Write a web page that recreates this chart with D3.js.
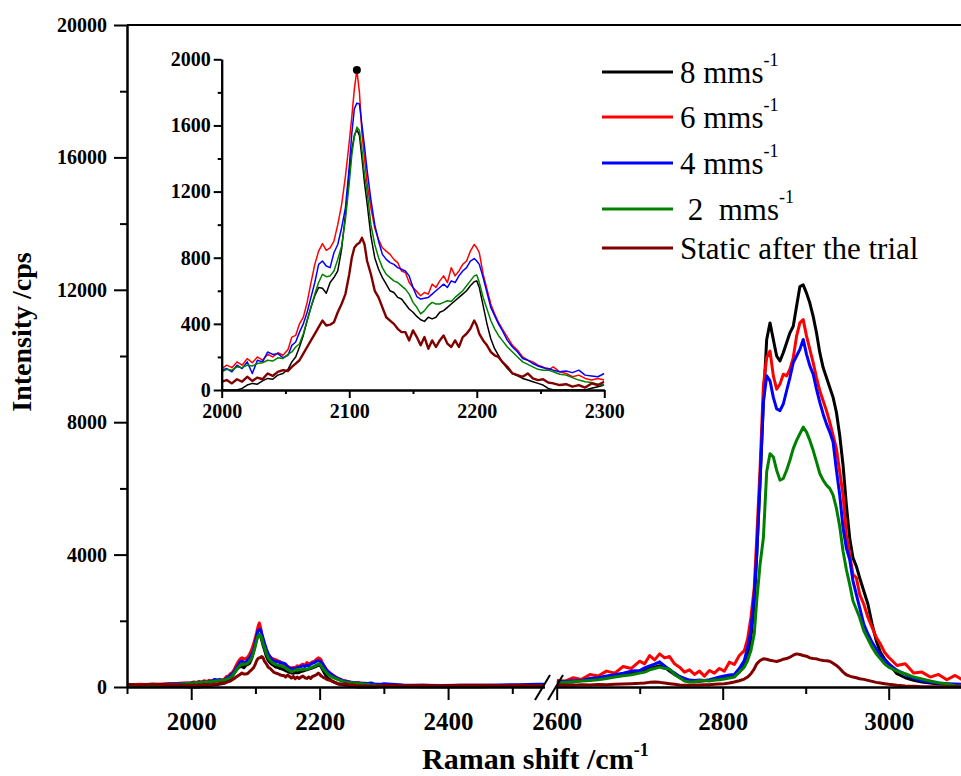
<!DOCTYPE html>
<html>
<head>
<meta charset="utf-8">
<script src="https://cdn.jsdelivr.net/npm/d3@7"></script>
<style>
  body { margin: 0; background: #fff; }
  text { font-family: "Times New Roman", "Liberation Serif", serif; }
</style>
</head>
<body>
<div id="chart"></div>
<script>

// Raman shift (cm-1), left part of the broken axis (also used by the inset)
const shiftLeft = [1900, 1920, 1940, 1960, 1980,
  2000, 2004, 2008, 2012, 2016, 2020, 2024, 2028, 2032, 2036, 2040, 2044, 2048, 2052,
  2055, 2058, 2061, 2064, 2067, 2070, 2073, 2076, 2079, 2082, 2085, 2088, 2091, 2094, 2097,
  2100, 2102, 2104, 2106, 2108, 2110, 2112, 2114,
  2117, 2120, 2123, 2126, 2129, 2132, 2135, 2138, 2141, 2144, 2147, 2150, 2153, 2156, 2159,
  2162, 2165, 2168, 2171, 2174, 2177, 2180, 2183, 2186, 2189, 2192, 2195, 2198,
  2200, 2202, 2205, 2208, 2211, 2214, 2217, 2220,
  2224, 2228, 2232, 2236, 2240, 2244, 2248, 2252, 2256, 2260,
  2265, 2270, 2275, 2280, 2285, 2290, 2295, 2300,
  2330, 2360, 2390, 2420, 2450, 2480, 2510, 2540, 2550];

const speed8Left = [20, 20, 30, 30, 20,
  0, 0, 0, 0, 10, 30, 40, 35, 55, 70, 65, 90, 100, 125,
  170, 200, 260, 330, 420, 500, 570, 620, 615, 585, 650, 680, 720, 850, 1060,
  1300, 1450, 1540, 1575, 1540, 1400, 1250, 1130,
  930, 800, 730, 680, 640, 600, 590, 560, 550, 520, 490, 470, 445, 425, 415,
  440, 430, 440, 470, 480, 500, 520, 540, 560, 580, 600, 630, 655,
  660, 620, 510, 400, 310, 250, 210, 170,
  130, 100, 85, 70, 60, 50, 40, 30, 10, 0,
  0, 0, 0, 0, 0, 10, 20, 30,
  20, 10, 10, 10, 10, 20, 20, 30, 30];

const speed6Left = [60, 80, 70, 100, 110,
  130, 150, 135, 170, 150, 190, 165, 200, 180, 215, 200, 225, 210, 245,
  320, 330, 400, 440, 530, 650, 760, 840, 885, 845, 860, 900, 1000, 1120, 1290,
  1500, 1650, 1820, 1935, 1800, 1550, 1400, 1250,
  1100, 980, 910, 860, 840, 820, 790, 770, 720, 710, 650, 620, 595, 570, 590,
  580, 640, 620, 660, 690, 650, 740, 690, 720, 760, 780, 840, 880,
  860, 830, 700, 610, 520, 460, 410, 370,
  320, 270, 240, 200, 180, 170, 150, 140, 120, 140,
  110, 100, 80, 90, 70, 60, 70, 60,
  40, 30, 25, 30, 20, 30, 40, 50, 50];

const speed4Left = [40, 50, 70, 80, 100,
  120, 130, 110, 150, 130, 170, 100, 180, 170, 230, 215, 220, 195, 210,
  270, 290, 350, 400, 470, 560, 650, 760, 780, 750, 740, 830, 880, 980, 1100,
  1350, 1550, 1700, 1735, 1730, 1600, 1470, 1330,
  1150, 1000, 900, 820, 790, 770, 760, 740, 730, 720, 690, 620, 565, 550, 555,
  560, 580, 600, 620, 640, 620, 660, 650, 690, 720, 740, 780, 795,
  780, 760, 680, 590, 500, 450, 400, 360,
  300, 260, 230, 190, 180, 160, 145, 135, 130, 120,
  110, 115, 105, 120, 90, 85, 80, 100,
  60, 50, 45, 50, 55, 60, 70, 80, 80];

const speed2Left = [30, 40, 50, 60, 80,
  110, 125, 120, 140, 135, 150, 145, 160, 165, 180, 175, 195, 190, 215,
  230, 260, 280, 340, 420, 500, 580, 650, 700, 685, 690, 720, 790, 870, 1030,
  1250, 1420, 1530, 1590, 1570, 1450, 1300, 1200,
  1000, 880, 800, 740, 700, 680, 660, 650, 630, 610, 580, 530, 500, 460, 480,
  510, 530, 520, 520, 530, 540, 535, 560, 580, 600, 630, 660, 690,
  695, 650, 560, 490, 420, 370, 330, 300,
  260, 230, 200, 170, 155, 140, 125, 120, 120, 110,
  95, 90, 75, 60, 50, 45, 35, 30,
  25, 20, 20, 15, 15, 20, 20, 30, 30];

const staticLeft = [80, 60, 90, 70, 60,
  50, 60, 40, 65, 50, 80, 55, 75, 65, 100, 85, 110, 120, 115,
  140, 160, 180, 220, 260, 300, 340, 380, 420, 390, 395, 410, 470, 520, 580,
  700, 800, 860, 880, 890, 920, 880, 780,
  700, 600, 560, 500, 440, 420, 400, 370, 350, 350, 300, 360, 320, 270, 320,
  250, 300, 260, 300, 330, 280, 260, 300, 260, 320, 340, 370, 420,
  390, 340, 300, 270, 230, 210, 200, 170,
  140, 100, 90, 80, 100, 70, 60, 65, 45, 40,
  30, 35, 20, 30, 15, 40, 30, 50,
  40, 50, 40, 50, 55, 45, 50, 40, 40];

// Raman shift (cm-1), right part of the broken axis
const shiftRight = [2600, 2610, 2620, 2630, 2640, 2650, 2660, 2670, 2680, 2690,
  2700, 2706, 2712, 2718, 2724, 2730, 2736, 2742, 2748, 2754, 2760, 2766, 2772, 2778,
  2784, 2790, 2796, 2802, 2808, 2814, 2820, 2826, 2830, 2834, 2838, 2841, 2845, 2849,
  2853, 2857, 2861, 2865, 2869, 2873, 2877, 2881, 2885, 2889, 2893, 2897, 2901, 2905,
  2909, 2913, 2917, 2921, 2925, 2929, 2933, 2937, 2941, 2945, 2949, 2953, 2957, 2961,
  2965, 2970, 2975, 2980, 2985, 2990, 2995, 3000, 3010, 3020, 3030, 3040, 3050, 3060,
  3070, 3080, 3090, 3100];

const speed8Right = [120, 160, 150, 200, 220, 260, 290, 330, 380, 420,
  470, 520, 560, 600, 640, 600, 480, 380, 300, 230, 190, 180, 170, 190,
  200, 220, 250, 280, 310, 350, 450, 650, 900, 1500, 2500, 4000, 6200, 8600,
  10500, 11000, 10500, 10000, 9850, 10100, 10400, 10700, 10900, 11500, 12100, 12150, 11900, 11600,
  11200, 10700, 10100, 9650, 9350, 9050, 8750, 8300, 7600, 6700, 5500, 4500, 3900, 3650,
  3300, 2900, 2500, 1900, 1400, 1050, 850, 700, 400, 280, 200, 150, 120, 90,
  80, 70, 60, 60];

const speed6Right = [200, 180, 280, 230, 380, 330, 480, 420, 620, 560,
  780, 700, 950, 820, 1000, 880, 920, 700, 600, 450, 520, 380, 480, 330,
  500, 420, 560, 480, 750, 680, 950, 1100, 1450, 2100, 3000, 4500, 6600, 9100,
  9950, 10150, 9400, 9000, 9150, 9450, 9400, 9600, 9950, 10600, 11000, 11100, 10600, 10200,
  9800, 9350, 8950, 8650, 8350, 8000, 7600, 7200, 6500, 5800, 4600, 4000, 3400, 3300,
  2800, 2500, 2100, 1800, 1500, 1300, 1050, 900, 650, 700, 420, 450, 300, 380,
  220, 350, 200, 280];

const speed4Right = [150, 170, 190, 200, 260, 280, 330, 370, 420, 480,
  500, 580, 640, 690, 760, 640, 520, 420, 320, 260, 210, 200, 210, 200,
  220, 260, 300, 330, 360, 380, 560, 800, 1200, 1700, 2800, 4000, 6200, 8600,
  9400, 9250, 8750, 8400, 8350, 8550, 8950, 9350, 9800, 10000, 10200, 10500, 10050, 9700,
  9450, 9000, 8600, 8250, 7950, 7700, 7400, 6550, 5800, 4800, 4200, 3850, 3200, 2800,
  2400, 1900, 1600, 1350, 1150, 950, 800, 700, 500, 380, 260, 190, 150, 110,
  100, 90, 80, 80];

const speed2Right = [120, 140, 160, 180, 200, 220, 260, 300, 340, 370,
  420, 450, 520, 560, 600, 560, 540, 380, 280, 180, 150, 160, 190, 200,
  180, 210, 220, 240, 270, 300, 450, 600, 800, 1100, 1600, 2600, 3700, 4500,
  6500, 7050, 6950, 6550, 6250, 6300, 6550, 6850, 7200, 7450, 7650, 7850, 7700, 7450,
  7150, 6800, 6450, 6250, 6100, 6000, 5800, 5400, 4850, 4100, 3550, 3100, 2600, 2350,
  2100, 1700, 1450, 1200, 1000, 850, 700, 600, 480, 400, 300, 240, 180, 130,
  100, 40, 30, 30];

const staticRight = [50, 60, 55, 70, 60, 75, 70, 80, 90, 100,
  110, 120, 140, 150, 140, 120, 100, 80, 60, 50, 50, 60, 60, 70,
  70, 80, 90, 100, 120, 150, 190, 240, 300, 400, 550, 700, 800, 850,
  840, 810, 790, 770, 800, 840, 860, 900, 960, 1000, 980, 950, 930, 880,
  860, 850, 820, 800, 790, 780, 720, 650, 560, 450, 370, 330, 300, 280,
  250, 230, 200, 170, 140, 120, 100, 80, 50, 30, 20, 10, 10, 10,
  5, 5, 5, 5];

const seriesNames = ["8 mms", "6 mms", "4 mms", " 2  mms", "Static after the trial"];
const seriesSup = ["-1", "-1", "-1", "-1", ""];
const seriesColors = ["#000000", "#ff0000", "#0000ff", "#008000", "#800000"];

const yTicks = [0, 4000, 8000, 12000, 16000, 20000];
const yMinor = [2000, 6000, 10000, 14000, 18000];
const xLeftTicks = [2000, 2200, 2400];
const xLeftMinor = [1900, 2100, 2300, 2500];
const xRightTicks = [2600, 2800, 3000];
const xRightMinor = [2700, 2900, 3100];
const insetYTicks = [0, 400, 800, 1200, 1600, 2000];
const insetYMinor = [200, 600, 1000, 1400, 1800];
const insetXTicks = [2000, 2100, 2200, 2300];
const insetXMinor = [2050, 2150, 2250];
const insetMarker = [[2106, 1935]];

const leftSeries = [speed8Left, speed6Left, speed4Left, speed2Left, staticLeft];
const rightSeries = [speed8Right, speed6Right, speed4Right, speed2Right, staticRight];

const W = 961, H = 776;
const serif = '"Times New Roman", "Liberation Serif", serif';

const svg = d3.select("#chart").append("svg")
  .attr("width", W)
  .attr("height", H)
  .style("display", "block");

// main scales (broken x axis)
const xL = d3.scaleLinear().domain([1900, 2550]).range([127, 544.4]);
const xR = d3.scaleLinear().domain([2600, 3100]).range([556.7, 971.7]);
const y = d3.scaleLinear().domain([0, 20000]).range([687, 25]);

// inset scales
const xi = d3.scaleLinear().domain([2000, 2300]).range([221.7, 604.3]);
const yi = d3.scaleLinear().domain([0, 2000]).range([390, 59.3]);

const defs = svg.append("defs");
defs.append("clipPath").attr("id", "clipL").append("rect")
  .attr("x", 127).attr("y", 20).attr("width", 544.4 - 127).attr("height", 670);
defs.append("clipPath").attr("id", "clipR").append("rect")
  .attr("x", 556.7).attr("y", 20).attr("width", W - 556.7).attr("height", 670);
defs.append("clipPath").attr("id", "clipI").append("rect")
  .attr("x", 221.7).attr("y", 50).attr("width", 604.3 - 221.7).attr("height", 341);

function styleAxis(g, size) {
  g.attr("font-family", serif).attr("font-size", size).attr("font-weight", "bold");
  g.selectAll("path.domain").attr("stroke", "#000").attr("stroke-width", 2);
  g.selectAll(".tick line").attr("stroke", "#000").attr("stroke-width", 2);
  g.selectAll(".tick text")
    .attr("fill", "#000")
    .style("font-family", serif)
    .style("font-size", size + "px")
    .style("font-weight", "bold");
}

// ---- main curves ----
const lineL = d3.line().x(d => xL(d[0])).y(d => y(d[1]));
const lineR = d3.line().x(d => xR(d[0])).y(d => y(d[1]));

const gL = svg.append("g").attr("clip-path", "url(#clipL)");
const gR = svg.append("g").attr("clip-path", "url(#clipR)");

leftSeries.forEach(function(vals, i) {
  gL.append("path")
    .datum(d3.zip(shiftLeft, vals))
    .attr("fill", "none")
    .attr("stroke", seriesColors[i])
    .attr("stroke-width", 3)
    .attr("stroke-linejoin", "round")
    .attr("d", lineL);
});
rightSeries.forEach(function(vals, i) {
  gR.append("path")
    .datum(d3.zip(shiftRight, vals))
    .attr("fill", "none")
    .attr("stroke", seriesColors[i])
    .attr("stroke-width", 3)
    .attr("stroke-linejoin", "round")
    .attr("d", lineR);
});

// ---- main axes ----
const gy = svg.append("g").attr("transform", "translate(127,0)")
  .call(d3.axisLeft(y).tickValues(yTicks).tickSize(13).tickSizeOuter(0).tickPadding(7)
    .tickFormat(d3.format("d")));
styleAxis(gy, 20);
const gyMinor = svg.append("g").attr("transform", "translate(127,0)")
  .call(d3.axisLeft(y).tickValues(yMinor).tickSize(7).tickSizeOuter(0).tickFormat(""));
styleAxis(gyMinor, 20);

// top frame line
svg.append("line")
  .attr("x1", 127).attr("x2", W)
  .attr("y1", y(20000)).attr("y2", y(20000))
  .attr("stroke", "#000").attr("stroke-width", 2);

const gxL = svg.append("g").attr("transform", "translate(0," + y(0) + ")")
  .call(d3.axisBottom(xL).tickValues(xLeftTicks).tickSize(13).tickSizeOuter(0).tickPadding(12)
    .tickFormat(d3.format("d")));
styleAxis(gxL, 25);
const gxLMinor = svg.append("g").attr("transform", "translate(0," + y(0) + ")")
  .call(d3.axisBottom(xL).tickValues(xLeftMinor).tickSize(7).tickSizeOuter(0).tickFormat(""));
styleAxis(gxLMinor, 25);

const gxR = svg.append("g").attr("transform", "translate(0," + y(0) + ")")
  .call(d3.axisBottom(xR).tickValues(xRightTicks).tickSize(13).tickSizeOuter(0).tickPadding(12)
    .tickFormat(d3.format("d")));
styleAxis(gxR, 25);
const gxRMinor = svg.append("g").attr("transform", "translate(0," + y(0) + ")")
  .call(d3.axisBottom(xR).tickValues(xRightMinor).tickSize(7).tickSizeOuter(0).tickFormat(""));
styleAxis(gxRMinor, 25);

// axis break marks
const yb = y(0);
[[535, 550], [548, 563]].forEach(function(p) {
  svg.append("line")
    .attr("x1", p[0]).attr("y1", yb + 13)
    .attr("x2", p[1]).attr("y2", yb - 12)
    .attr("stroke", "#000").attr("stroke-width", 2);
});

// axis titles
const xt = svg.append("text")
  .attr("x", 422).attr("y", 769)
  .style("font-size", "30px").style("font-weight", "bold");
xt.append("tspan").text("Raman shift /cm");
xt.append("tspan").attr("dy", -13).style("font-size", "18px").text("-1");

svg.append("text")
  .attr("transform", "translate(31,332) rotate(-90)")
  .attr("text-anchor", "middle")
  .style("font-size", "28px").style("font-weight", "bold")
  .text("Intensity /cps");

// ---- inset ----
const lineI = d3.line().x(d => xi(d[0])).y(d => yi(d[1]));
const gI = svg.append("g").attr("clip-path", "url(#clipI)");
leftSeries.forEach(function(vals, i) {
  gI.append("path")
    .datum(d3.zip(shiftLeft, vals).filter(d => d[0] >= 2000 && d[0] <= 2300))
    .attr("fill", "none")
    .attr("stroke", seriesColors[i])
    .attr("stroke-width", i === 4 ? 2.4 : 1.5)
    .attr("stroke-linejoin", "round")
    .attr("d", lineI);
});

svg.selectAll("circle.marker")
  .data(insetMarker)
  .enter().append("circle")
  .attr("class", "marker")
  .attr("cx", d => xi(d[0]))
  .attr("cy", d => yi(d[1]))
  .attr("r", 4)
  .attr("fill", "#000");

const giy = svg.append("g").attr("transform", "translate(" + xi(2000) + ",0)")
  .call(d3.axisLeft(yi).tickValues(insetYTicks).tickSize(8).tickSizeOuter(0).tickPadding(3)
    .tickFormat(d3.format("d")));
styleAxis(giy, 20);
const giyMinor = svg.append("g").attr("transform", "translate(" + xi(2000) + ",0)")
  .call(d3.axisLeft(yi).tickValues(insetYMinor).tickSize(4).tickSizeOuter(0).tickFormat(""));
styleAxis(giyMinor, 20);

const gix = svg.append("g").attr("transform", "translate(0," + yi(0) + ")")
  .call(d3.axisBottom(xi).tickValues(insetXTicks).tickSize(8).tickSizeOuter(0).tickPadding(6)
    .tickFormat(d3.format("d")));
styleAxis(gix, 20);
const gixMinor = svg.append("g").attr("transform", "translate(0," + yi(0) + ")")
  .call(d3.axisBottom(xi).tickValues(insetXMinor).tickSize(4).tickSizeOuter(0).tickFormat(""));
styleAxis(gixMinor, 20);

// ---- legend ----
const legendRows = [72, 117, 163, 209, 248];
const legend = svg.append("g");
seriesNames.forEach(function(name, i) {
  const ry = legendRows[i];
  legend.append("line")
    .attr("x1", 602).attr("x2", 673)
    .attr("y1", ry).attr("y2", ry)
    .attr("stroke", seriesColors[i]).attr("stroke-width", 3);
  const t = legend.append("text")
    .attr("x", 680).attr("y", ry + 11)
    .style("font-size", "31px")
    .style("white-space", "pre")
    .attr("xml:space", "preserve");
  t.append("tspan").text(name);
  if (seriesSup[i]) {
    t.append("tspan").attr("dy", -17).style("font-size", "18px").text(seriesSup[i]);
  }
});

</script>
</body>
</html>
